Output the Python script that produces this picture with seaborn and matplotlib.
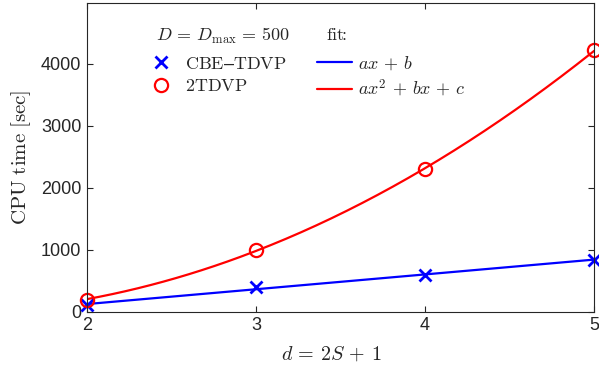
import numpy as np
import pandas as pd
import matplotlib
matplotlib.use("Agg")
import matplotlib.pyplot as plt
import seaborn as sns
from matplotlib.lines import Line2D

# --- data ---
d_vals = [2, 3, 4, 5]
cbe_time = [110, 395, 595, 840]
tdvp2_time = [200, 1000, 2300, 4215]

sns.set_theme(style="white")
plt.rcParams['font.family'] = ['Liberation Sans', 'DejaVu Sans']
plt.rcParams['mathtext.fontset'] = 'cm'

# fits: linear for CBE-TDVP, quadratic for 2TDVP
lin = np.polyfit(d_vals, cbe_time, 1)
quad = np.polyfit(d_vals, tdvp2_time, 2)
xs = np.linspace(2, 5, 200)
fits = pd.DataFrame({'d': xs,
                     'lin': np.polyval(lin, xs),
                     'quad': np.polyval(quad, xs)})
pts = pd.DataFrame({'d': d_vals, 'cbe': cbe_time, 'tdvp2': tdvp2_time})

fig = plt.figure(figsize=(5.99, 3.74), dpi=100)
ax = fig.add_axes([0.145, 0.166, 0.847, 0.826])

sns.lineplot(data=fits, x='d', y='lin', ax=ax, color='blue', linewidth=1.6)
sns.lineplot(data=fits, x='d', y='quad', ax=ax, color='red', linewidth=1.6)
ax.plot(pts['d'], pts['cbe'], linestyle='none', marker='x', color='blue',
        markersize=8, markeredgewidth=2, clip_on=False)
ax.plot(pts['d'], pts['tdvp2'], linestyle='none', marker='o', color='red',
        markerfacecolor='none', markersize=9.5, markeredgewidth=1.6, clip_on=False)

ax.set_xlim(2, 5)
ax.set_ylim(0, 4980)
ax.set_xticks([2, 3, 4, 5])
ax.set_yticks([0, 1000, 2000, 3000, 4000])
ax.tick_params(direction='in', bottom=True, left=True, top=True, right=True,
               length=4, width=0.8, labelsize=13, colors='0.15', pad=4)
for sp in ax.spines.values():
    sp.set_color('0.15')
    sp.set_linewidth(0.8)

ax.set_xlabel(r'$d\, =\, 2S\, +\, 1$', fontsize=14.5, color='0.15', labelpad=3)
ax.xaxis.set_label_coords(0.481, -0.105)
ax.set_ylabel(r'$\mathrm{CPU\ time\ [sec]}$', fontsize=15, color='0.15', labelpad=2)
ax.yaxis.set_label_coords(-0.106, 0.5)

# legend headers
ax.text(0.137, 0.894, r'$D\, =\, D_{\mathrm{max}}\, =\, 500$', transform=ax.transAxes,
        fontsize=13, va='center', ha='left')
ax.text(0.472, 0.894, r'$\mathrm{fit}\!\!:$', transform=ax.transAxes,
        fontsize=13, va='center', ha='left')

handles = [
    Line2D([], [], linestyle='none', marker='x', color='blue', markersize=8, markeredgewidth=2),
    Line2D([], [], linestyle='none', marker='o', color='red', markerfacecolor='none',
           markersize=9.5, markeredgewidth=1.6),
    Line2D([], [], color='blue', linewidth=1.6),
    Line2D([], [], color='red', linewidth=1.6),
]
labels = [r'$\mathrm{CBE}$–$\mathrm{TDVP}$', r'$\mathrm{2TDVP}$',
          r'$ax\, +\, b$', r'$ax^2\, +\, bx\, +\, c$']
ax.legend(handles, labels, ncol=2, frameon=False, fontsize=13,
          loc='upper left', bbox_to_anchor=(0.099, 0.855),
          handlelength=1.9, handletextpad=0.35, columnspacing=1.7,
          labelspacing=0.3, borderaxespad=0)

fig.savefig('out.png', dpi=100)
